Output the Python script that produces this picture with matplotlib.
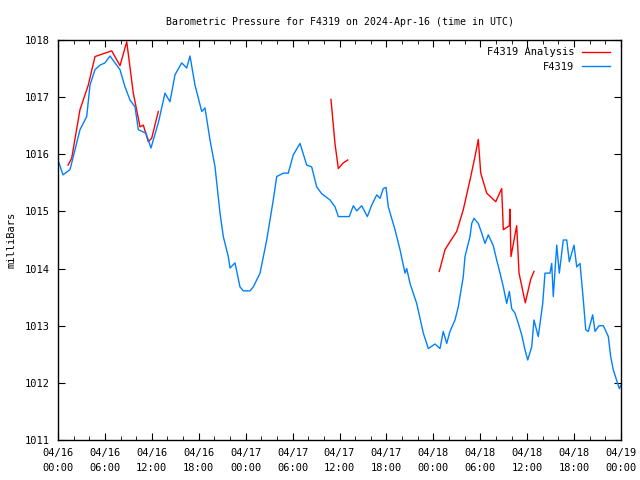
import matplotlib
matplotlib.use('Agg')
import matplotlib.pyplot as plt

# Temps en heures depuis 2024-04-16 00:00 UTC
station_h = [0, 0.64, 1.53, 1.92, 2.81, 3.67, 4.09, 4.73, 5.37, 6.01, 6.65, 7.29, 7.93,
             8.57, 9.21, 9.85, 10.27, 11.25, 11.89, 12.83, 13.68, 14.32, 14.96, 15.82,
             16.46, 16.88, 17.52, 18.38, 18.80, 19.44, 20.08, 20.72, 21.14, 21.78, 22.00,
             22.64, 23.27, 23.70, 24.55, 24.98, 25.84, 26.69, 27.53, 27.97, 28.81, 29.45,
             30.09, 30.95, 31.81, 32.44, 33.08, 33.72, 34.79, 35.43, 35.85, 37.25, 37.77,
             38.20, 38.84, 39.56, 40.12, 40.76, 41.18, 41.60, 41.95, 42.24, 43.10, 43.74,
             44.38, 44.59, 45.02, 45.87, 46.72, 47.36, 48.21, 48.85, 49.27, 49.71, 50.13,
             50.77, 51.19, 51.83, 52.05, 52.69, 52.91, 53.20, 53.75, 54.19, 54.61, 55.03,
             55.67, 56.10, 56.53, 56.95, 57.38, 57.72, 58.02, 58.44, 58.87, 59.30, 59.72,
             60.07, 60.58, 60.87, 61.42, 61.99, 62.28, 62.92, 63.14, 63.34, 63.78, 64.11,
             64.62, 65.06, 65.39, 65.99, 66.34, 66.76, 67.18, 67.49, 67.82, 68.38, 68.68,
             69.19, 69.74, 70.38, 70.68, 71.01, 71.78, 72.0]
station_p = [1015.90, 1015.64, 1015.73, 1015.94, 1016.43, 1016.66, 1017.21, 1017.48, 1017.56,
             1017.60, 1017.72, 1017.60, 1017.48, 1017.18, 1016.95, 1016.83, 1016.43, 1016.37,
             1016.11, 1016.55, 1017.07, 1016.92, 1017.39, 1017.60, 1017.51, 1017.72, 1017.21,
             1016.75, 1016.81, 1016.25, 1015.78, 1014.97, 1014.56, 1014.21, 1014.01, 1014.10,
             1013.68, 1013.61, 1013.61, 1013.68, 1013.92, 1014.50, 1015.20, 1015.61, 1015.67,
             1015.67, 1015.99, 1016.19, 1015.81, 1015.78, 1015.43, 1015.31, 1015.20, 1015.08,
             1014.91, 1014.91, 1015.10, 1015.01, 1015.10, 1014.91, 1015.11, 1015.29, 1015.23,
             1015.40, 1015.42, 1015.08, 1014.68, 1014.33, 1013.92, 1014.00, 1013.74, 1013.39,
             1012.87, 1012.60, 1012.68, 1012.60, 1012.90, 1012.69, 1012.90, 1013.10, 1013.33,
             1013.86, 1014.21, 1014.56, 1014.79, 1014.88, 1014.79, 1014.62, 1014.44, 1014.59,
             1014.40, 1014.15, 1013.92, 1013.68, 1013.39, 1013.60, 1013.30, 1013.22, 1013.04,
             1012.84, 1012.58, 1012.40, 1012.63, 1013.10, 1012.81, 1013.39, 1013.92, 1013.92,
             1014.09, 1013.51, 1014.41, 1013.92, 1014.50, 1014.50, 1014.12, 1014.41, 1014.03,
             1014.09, 1013.45, 1012.93, 1012.90, 1013.19, 1012.90, 1013.00, 1013.00, 1012.81,
             1012.46, 1012.23, 1011.90, 1011.96]

# Analyse (trois segments)
analyse1_h = [1.28, 1.75, 2.81, 3.87, 4.73, 5.79, 6.87, 7.93, 8.79, 9.63, 10.49, 10.91,
              11.55, 11.98, 12.83]
analyse1_p = [1015.81, 1015.93, 1016.78, 1017.21, 1017.71, 1017.76, 1017.81, 1017.55,
              1017.97, 1017.07, 1016.48, 1016.51, 1016.22, 1016.28, 1016.75]
analyse2_h = [34.91, 35.42, 35.85, 36.49, 37.05]
analyse2_p = [1016.96, 1016.19, 1015.75, 1015.85, 1015.90]
analyse3_h = [48.76, 49.49, 50.13, 50.99, 51.83, 52.69, 53.33, 53.75, 54.06, 54.83, 55.98,
              56.74, 56.95, 57.72, 57.80, 57.93, 58.66, 58.96, 59.76, 60.45, 60.87]
analyse3_p = [1013.95, 1014.33, 1014.47, 1014.65, 1015.03, 1015.55, 1015.96, 1016.26,
              1015.67, 1015.32, 1015.17, 1015.40, 1014.68, 1014.75, 1015.04, 1014.21,
              1014.75, 1013.92, 1013.40, 1013.81, 1013.95]

x_ticks = [0, 6, 12, 18, 24, 30, 36, 42, 48, 54, 60, 66, 72]
x_labels = ['04/16\n00:00', '04/16\n06:00', '04/16\n12:00', '04/16\n18:00',
            '04/17\n00:00', '04/17\n06:00', '04/17\n12:00', '04/17\n18:00',
            '04/18\n00:00', '04/18\n06:00', '04/18\n12:00', '04/18\n18:00',
            '04/19\n00:00']
y_ticks = [1011, 1012, 1013, 1014, 1015, 1016, 1017, 1018]

ROUGE = '#ff0000'
BLEU = '#0080ff'

plt.rcParams['font.family'] = 'DejaVu Sans Mono'
plt.rcParams['font.size'] = 7.5

fig = plt.figure(figsize=(6.4, 4.8), dpi=100)
ax = fig.add_axes([58 / 640, 40 / 480, 563 / 640, 400 / 480])

ax.plot(analyse1_h, analyse1_p, color=ROUGE, lw=1, label='F4319 Analysis')
ax.plot(analyse2_h, analyse2_p, color=ROUGE, lw=1)
ax.plot(analyse3_h, analyse3_p, color=ROUGE, lw=1)
ax.plot(station_h, station_p, color=BLEU, lw=1, label='F4319')

ax.set_xlim(0, 72)
ax.set_ylim(1011, 1018)
ax.set_xticks(x_ticks)
ax.set_xticklabels(x_labels)
for lab in ax.get_xticklabels():
    lab.set_linespacing(1.6)
ax.set_xticks(range(0, 73, 2), minor=True)
ax.set_yticks(y_ticks)
ax.tick_params(which='both', direction='in', top=True, right=True, color='black')
ax.tick_params(which='major', length=5, pad=6)
ax.tick_params(which='minor', length=3)
for s in ax.spines.values():
    s.set_linewidth(1)

ax.set_ylabel('milliBars', va='center')
ax.yaxis.set_label_coords(-46 / 563, 0.5)
ax.set_title('Barometric Pressure for F4319 on 2024-Apr-16 (time in UTC)',
             fontsize=7.1, pad=11)

ax.legend(loc='upper right', bbox_to_anchor=(1 - 5 / 563, 1 - 1 / 400),
          markerfirst=False, frameon=False, handlelength=2.7,
          borderaxespad=0.2, labelspacing=0.45, handletextpad=0.7)

fig.savefig('out.png', dpi=100)
plt.close('all')
